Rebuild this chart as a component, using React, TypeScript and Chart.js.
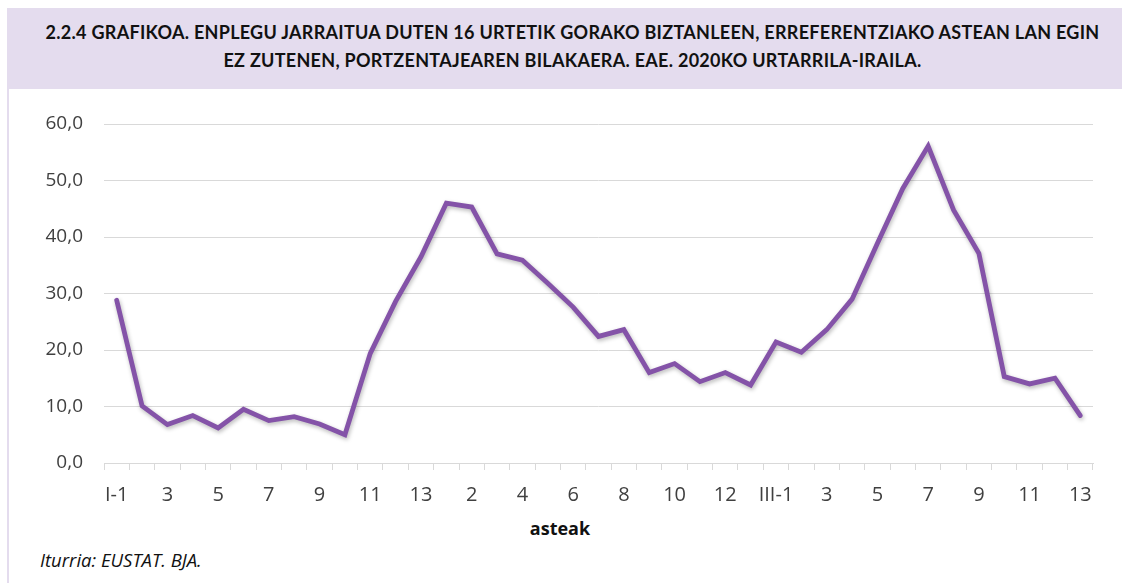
import React, { useEffect, useRef } from "react";
import { Chart, registerables } from "chart.js";

Chart.register(...registerables);

const quarterWeeks = ["1", "2", "3", "4", "5", "6", "7", "8", "9", "10", "11", "12", "13"];
const categories: string[] = [
  ...quarterWeeks.map((w) => (w === "1" ? "I-1" : w)),
  ...quarterWeeks.map((w) => (w === "1" ? "II-1" : w)),
  ...quarterWeeks.map((w) => (w === "1" ? "III-1" : w)),
];

const values: number[] = [
  28.8, 10.1, 6.8, 8.4, 6.2, 9.5, 7.5, 8.2, 6.9, 5.0, 19.4, 28.6, 36.5,
  46.0, 45.3, 37.0, 35.9, 31.8, 27.6, 22.4, 23.6, 16.0, 17.6, 14.4, 16.0, 13.8,
  21.4, 19.6, 23.6, 29.0, 38.9, 48.6, 56.1, 44.8, 37.1, 15.3, 14.0, 15.0, 8.4,
];

const titleLines = [
  "2.2.4 GRAFIKOA. ENPLEGU JARRAITUA DUTEN 16 URTETIK GORAKO BIZTANLEEN, ERREFERENTZIAKO ASTEAN LAN EGIN",
  "EZ ZUTENEN, PORTZENTAJEAREN BILAKAERA. EAE. 2020KO URTARRILA-IRAILA.",
];
const xAxisTitle = "asteak";
const source = "Iturria: EUSTAT. BJA.";

const yMin = 0;
const yMax = 60;
const yStep = 10;

const shadowPlugin = {
  id: "lineShadow",
  beforeDatasetsDraw(chart: any) {
    const ctx = chart.ctx;
    ctx.save();
    ctx.shadowColor = "rgba(0,0,0,0.28)";
    ctx.shadowBlur = 4;
    ctx.shadowOffsetX = 1;
    ctx.shadowOffsetY = 2;
  },
  afterDatasetsDraw(chart: any) {
    chart.ctx.restore();
  },
};

export default function App() {
  const canvasRef = useRef<HTMLCanvasElement | null>(null);

  useEffect(() => {
    if (!canvasRef.current) return;
    const chart = new Chart(canvasRef.current, {
      type: "line",
      data: {
        labels: categories,
        datasets: [
          {
            data: values,
            borderColor: "#8453a8",
            borderWidth: 4.8,
            pointRadius: 0,
            tension: 0,
            fill: false,
            borderJoinStyle: "miter",
            borderCapStyle: "round",
          },
        ],
      },
      options: {
        animation: false,
        responsive: false,
        maintainAspectRatio: false,
        layout: { padding: { left: 0, right: 29, top: 124, bottom: 0 } },
        plugins: {
          legend: { display: false },
          tooltip: { enabled: false },
          title: { display: false },
        },
        scales: {
          x: {
            type: "category",
            offset: true,
            afterFit: (s: any) => {
              s.height = 120;
            },
            grid: {
              offset: true,
              drawOnChartArea: false,
              drawTicks: true,
              tickLength: 7,
              color: "#d9d9d9",
              lineWidth: 1,
            },
            border: { display: true, color: "#d9d9d9", width: 1 },
            ticks: {
              autoSkip: false,
              maxRotation: 0,
              minRotation: 0,
              padding: 13,
              color: "#404040",
              font: { family: "'Open Sans'", size: 20 },
              callback: (_v: any, i: number) => (i % 2 === 0 ? categories[i] : ""),
            },
          },
          y: {
            min: yMin,
            max: yMax,
            afterFit: (s: any) => {
              s.width = 104;
            },
            grid: { color: "#d9d9d9", lineWidth: 1, drawTicks: false },
            border: { display: false },
            ticks: {
              stepSize: yStep,
              padding: 21,
              color: "#404040",
              font: { family: "'Open Sans'", size: 19 },
              callback: (v: any) => Number(v).toFixed(1).replace(".", ","),
            },
          },
        },
      },
      plugins: [shadowPlugin],
    });
    return () => chart.destroy();
  }, []);

  return (
    <div
      style={{
        position: "absolute",
        left: 0,
        top: 0,
        width: 1122,
        height: 583,
        background: "#ffffff",
        overflow: "hidden",
      }}
    >
      <div
        style={{
          position: "absolute",
          left: 7,
          top: 89,
          width: 2,
          height: 494,
          background: "#e4dcee",
        }}
      />
      <div
        style={{
          position: "absolute",
          left: 7,
          top: 8,
          width: 1115,
          height: 81,
          background: "#e4dcee",
        }}
      >
        <div
          style={{
            position: "absolute",
            left: 0,
            top: 10,
            width: 1131,
            textAlign: "center",
            fontFamily: "Lato, 'Open Sans', sans-serif",
            fontWeight: 700,
            fontSize: 18,
            lineHeight: "28px",
            letterSpacing: "0.28px",
            whiteSpace: "nowrap",
            color: "#111111",
          }}
        >
          {titleLines.map((l, i) => (
            <div key={i}>{l}</div>
          ))}
        </div>
      </div>
      <div
        style={{
          position: "absolute",
          left: 460,
          top: 515,
          width: 200,
          textAlign: "center",
          fontFamily: "'Open Sans', sans-serif",
          fontWeight: 700,
          fontSize: 18,
          lineHeight: "26px",
          color: "#111111",
        }}
      >
        {xAxisTitle}
      </div>
      <div
        style={{
          position: "absolute",
          left: 40,
          top: 547,
          fontFamily: "'Open Sans', sans-serif",
          fontStyle: "italic",
          fontSize: 18.5,
          lineHeight: "26px",
          color: "#111111",
        }}
      >
        {source}
      </div>
      <canvas
        ref={canvasRef}
        width={1122}
        height={583}
        style={{ position: "absolute", left: 0, top: 0, width: 1122, height: 583 }}
      />
    </div>
  );
}
